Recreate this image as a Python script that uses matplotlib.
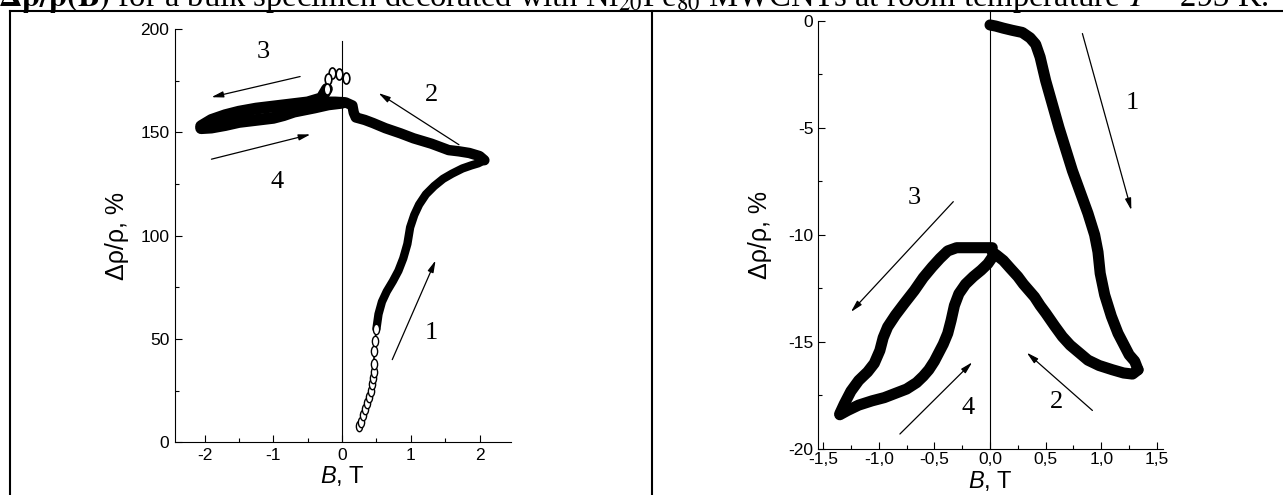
import matplotlib
matplotlib.use("Agg")
import matplotlib.pyplot as plt
from matplotlib.path import Path
from matplotlib.transforms import Affine2D
from matplotlib.ticker import MultipleLocator, FuncFormatter

plt.rcParams['font.family'] = ['Liberation Sans', 'DejaVu Sans']
plt.rcParams['axes.unicode_minus'] = False
plt.rcParams['mathtext.fontset'] = 'custom'
plt.rcParams['mathtext.rm'] = 'Liberation Sans'
plt.rcParams['mathtext.it'] = 'Liberation Sans:italic'
plt.rcParams['mathtext.bf'] = 'Liberation Sans:bold'

# ---- bulk specimen, 293 K (left panel) ----
# branch 1: rising field, sparse open points then dense
b1_open = [0.25, 0.27, 0.30, 0.33, 0.36, 0.39, 0.42, 0.44, 0.45, 0.46, 0.46, 0.47, 0.48, 0.50]
r1_open = [8, 10, 13, 16, 19, 22, 25, 28, 31, 34, 38, 44, 49, 55]
b1_dense = [0.50, 0.53, 0.58, 0.65, 0.74, 0.82, 0.89, 0.95, 0.99, 1.05, 1.12, 1.22, 1.34, 1.47,
            1.60, 1.75, 1.88, 1.98, 2.07]
r1_dense = [55, 62, 68, 73, 78, 83, 89, 96, 104, 110, 115, 120, 124, 127.5,
            130, 132.5, 134, 135, 136.5]
# branch 2: field back to zero
b2 = [2.07, 2.0, 1.85, 1.7, 1.55, 1.3, 1.04, 0.85, 0.63, 0.45, 0.33, 0.2, 0.17, 0.15, 0.05, -0.1,
      -0.25, -0.4]
r2 = [136.5, 138.5, 140, 140.8, 141.4, 144.5, 147.1, 149.5, 152, 154.5, 156, 157.2, 159.5, 163,
      164.5, 164.8, 164.8, 164.5]
# branch 3: negative field (upper part of the band)
b3_open = [0.05, -0.05, -0.15, -0.2, -0.22]
r3_open = [176.5, 178, 178.5, 176, 171]
b3 = [-0.22, -0.3, -0.5, -0.75, -1.0, -1.25, -1.5, -1.7, -1.9, -2.05]
r3 = [171, 166.5, 164.5, 163.5, 162.5, 161.5, 160, 158.3, 156, 153]
# branch 4: back towards zero (lower part of the band)
b4 = [-2.05, -1.9, -1.7, -1.5, -1.25, -1.0, -0.85, -0.7, -0.55, -0.4, -0.2, 0.0]
r4 = [152, 152.3, 153.5, 155, 156, 157, 158.3, 160, 161, 162, 163.5, 164.3]

# ---- right panel ----
c1_b = [0.0, 0.05, 0.12, 0.2, 0.29, 0.36, 0.41, 0.45, 0.5, 0.56, 0.62, 0.68, 0.74, 0.81, 0.88,
        0.94, 0.97, 0.99, 1.03, 1.09, 1.15, 1.2, 1.25, 1.3, 1.33]
c1_r = [-0.2, -0.25, -0.35, -0.45, -0.55, -0.8, -1.1, -1.7, -2.8, -3.9, -5.0, -6.0, -7.0, -8.0,
        -9.0, -10.0, -10.8, -11.8, -12.8, -13.8, -14.6, -15.1, -15.6, -15.9, -16.3]
c2_b = [1.33, 1.28, 1.2, 1.1, 0.98, 0.88, 0.8, 0.72, 0.65, 0.58, 0.5, 0.45, 0.4, 0.35, 0.3, 0.25,
        0.18, 0.12, 0.06, 0.02]
c2_r = [-16.3, -16.5, -16.45, -16.3, -16.1, -15.85, -15.5, -15.15, -14.75, -14.25, -13.65, -13.3,
        -12.9, -12.6, -12.3, -11.95, -11.55, -11.2, -10.95, -10.8]
c3_b = [0.02, -0.1, -0.2, -0.3, -0.38, -0.45, -0.52, -0.6, -0.68, -0.77, -0.85, -0.92, -0.96,
        -0.99, -1.04, -1.1, -1.18, -1.25, -1.31, -1.35]
c3_r = [-10.6, -10.6, -10.6, -10.6, -10.75, -11.1, -11.5, -12.0, -12.6, -13.2, -13.75, -14.3,
        -14.8, -15.4, -16.0, -16.4, -16.8, -17.3, -17.9, -18.35]
c4_b = [-1.35, -1.28, -1.18, -1.06, -0.95, -0.85, -0.75, -0.66, -0.6, -0.55, -0.5, -0.46, -0.42,
        -0.38, -0.35, -0.32, -0.28, -0.22, -0.15, -0.08, -0.02, 0.02]
c4_r = [-18.4, -18.2, -17.95, -17.75, -17.6, -17.4, -17.2, -16.9, -16.6, -16.3, -15.9, -15.5,
        -15.1, -14.6, -14.0, -13.3, -12.75, -12.3, -11.95, -11.65, -11.35, -11.05]

# direction arrows: (tail, head, label, label position)
left_arrows = [((0.73, 40), (1.36, 88), '1', (1.3, 53)),
               ((1.70, 144), (0.53, 169), '2', (1.3, 168)),
               ((-0.61, 177), (-1.90, 167), '3', (-1.14, 189)),
               ((-1.90, 137), (-0.46, 149), '4', (-0.94, 126))]
right_arrows = [((0.83, -0.6), (1.27, -8.85), '1', (1.28, -3.85)),
                ((0.92, -18.2), (0.33, -15.5), '2', (0.6, -17.8)),
                ((-0.33, -8.45), (-1.25, -13.6), '3', (-0.68, -8.3)),
                ((-0.81, -19.3), (-0.16, -15.95), '4', (-0.2, -18.1))]

oval = Path.unit_circle().transformed(Affine2D().scale(0.6, 1.0))

fig = plt.figure(figsize=(12.83, 4.95), dpi=100)

# table frame around the two panels
frame = dict(color='black', lw=1.5, transform=fig.transFigure, clip_on=False)
fig.add_artist(plt.Line2D([10 / 1283, 1.0], [1 - 11 / 495] * 2, **frame))
fig.add_artist(plt.Line2D([10 / 1283] * 2, [0, 1 - 11 / 495], **frame))
fig.add_artist(plt.Line2D([651.5 / 1283] * 2, [0, 1 - 11 / 495], **frame))

caption = fig.text(-2 / 1283, 1 - 6 / 495,
                   r'$\mathbf{\Delta\rho/\rho(B)}$ for a bulk specimen decorated with '
                   r'Ni$_{20}$Fe$_{80}$ MWCNTs at room temperature $T$ = 293 K.',
                   family='Liberation Serif', math_fontfamily='stix', fontsize=20,
                   ha='left', va='baseline')
fig.canvas.draw()
w = caption.get_window_extent().width
caption.set_fontsize(20 * 1268 / w)


def style_axes(ax, xpad, ypad):
    for side in ('top', 'right'):
        ax.spines[side].set_visible(False)
    for side in ('left', 'bottom'):
        ax.spines[side].set_linewidth(0.8)
    ax.tick_params(which='both', direction='in', width=0.8, labelsize=12.5)
    ax.tick_params(axis='x', pad=xpad)
    ax.tick_params(axis='y', pad=ypad)
    ax.tick_params(which='major', length=5)
    ax.tick_params(which='minor', length=3)
    ax.set_ylabel('Δρ/ρ, %', fontsize=18)
    ax.set_xlabel('$B$, T', fontsize=17)
    ax.patch.set_alpha(0)


def draw_arrows(ax, arrows):
    for tail, head, label, pos in arrows:
        ax.annotate('', xy=head, xytext=tail,
                    arrowprops=dict(arrowstyle='-|>,head_length=0.7,head_width=0.18',
                                    lw=0.9, color='black', shrinkA=0, shrinkB=0))
        ax.text(pos[0], pos[1], label, family='Liberation Serif', fontsize=19,
                ha='center', va='center')


# left panel
ax1 = fig.add_axes([0.1364, 0.1065, 0.2615, 0.8349])
style_axes(ax1, 4, 4)
ax1.set_xlim(-2.43, 2.45)
ax1.set_ylim(0, 200)
ax1.xaxis.set_major_locator(MultipleLocator(1))
ax1.xaxis.set_minor_locator(MultipleLocator(0.5))
ax1.yaxis.set_major_locator(MultipleLocator(50))
ax1.yaxis.set_minor_locator(MultipleLocator(25))
ax1.yaxis.set_label_coords(-0.137, 0.5)
ax1.xaxis.set_label_coords(0.5, -0.052)
ax1.plot([0, 0], [0, 194], color='black', lw=0.8)

thick = dict(color='black', lw=7.5, solid_capstyle='round', solid_joinstyle='round', clip_on=False)
ax1.plot(b1_dense, r1_dense, **dict(thick, lw=6))
ax1.plot(b2, r2, **thick)
ax1.plot(b3, r3, **dict(thick, lw=8.5))
ax1.plot(b4, r4, **dict(thick, lw=8.5))
ax1.plot(b1_open, r1_open, color='black', lw=1.2, marker=oval, ms=7.5,
         mfc='white', mec='black', mew=1.0)
ax1.plot(b3_open, r3_open, color='black', lw=1.2, marker=oval, ms=8,
         mfc='white', mec='black', mew=1.2)
draw_arrows(ax1, left_arrows)

# right panel
ax2 = fig.add_axes([0.6372, 0.0929, 0.2689, 0.8653])
style_axes(ax2, 2, 3)
ax2.set_xlim(-1.55, 1.55)
ax2.set_ylim(-20, 0)
ax2.xaxis.set_major_locator(MultipleLocator(0.5))
ax2.xaxis.set_minor_locator(MultipleLocator(0.25))
ax2.yaxis.set_major_locator(MultipleLocator(5))
ax2.yaxis.set_minor_locator(MultipleLocator(2.5))
ax2.xaxis.set_major_formatter(FuncFormatter(lambda v, p: f'{v:.1f}'.replace('.', ',')))
ax2.yaxis.set_label_coords(-0.132, 0.5)
ax2.xaxis.set_label_coords(0.5, -0.046)
ax2.plot([0, 0], [-20, 0.45], color='black', lw=0.8, clip_on=False)

trace = dict(color='black', lw=8, solid_capstyle='round', solid_joinstyle='round', clip_on=False)
for bb, rr in ((c1_b, c1_r), (c2_b, c2_r), (c3_b, c3_r), (c4_b, c4_r)):
    ax2.plot(bb, rr, **trace)
draw_arrows(ax2, right_arrows)

fig.savefig('out.png', dpi=100)
